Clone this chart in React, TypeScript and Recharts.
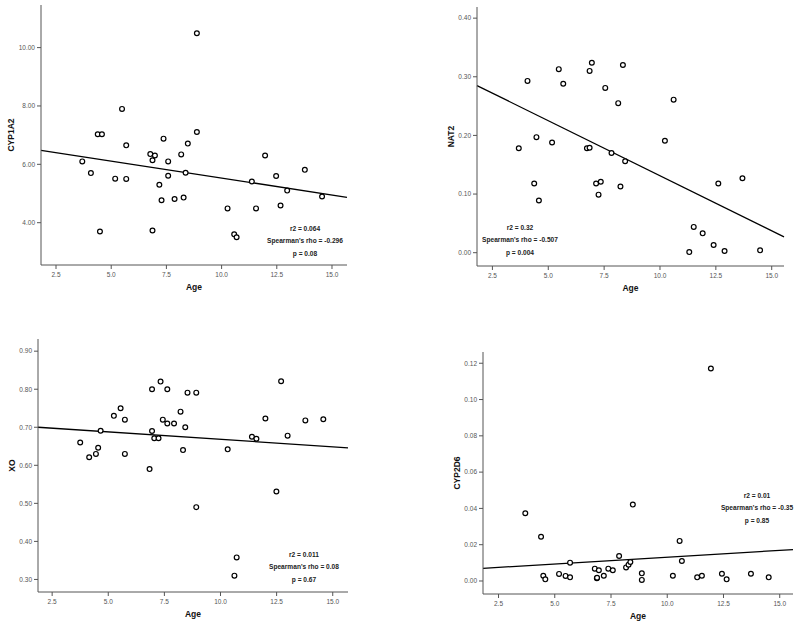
import React from 'react';
import {
  ScatterChart,
  Scatter,
  XAxis,
  YAxis,
  ReferenceLine,
} from 'recharts';

// ages and values
const cyp1a2Age = [3.69, 4.08, 4.39, 4.58, 4.49, 5.18, 5.49, 5.68, 5.68, 6.77, 6.87, 6.98, 6.87, 7.18, 7.28, 7.37, 7.58, 7.58, 7.87, 8.17, 8.28, 8.37, 8.47, 8.88, 8.88, 10.27, 10.57, 10.68, 11.37, 11.56, 11.97, 12.47, 12.67, 12.97, 13.77, 14.55];
const cyp1a2Val = [6.1, 5.7, 7.03, 7.03, 3.7, 5.51, 7.9, 6.65, 5.5, 6.35, 6.14, 6.3, 3.73, 5.3, 4.77, 6.88, 6.1, 5.61, 4.81, 6.34, 4.86, 5.71, 6.71, 7.11, 10.49, 4.49, 3.6, 3.5, 5.41, 4.49, 6.3, 5.6, 4.59, 5.1, 5.81, 4.9];

const nat2Age = [3.68, 4.07, 4.37, 4.47, 4.58, 5.17, 5.47, 5.67, 6.73, 6.85, 6.85, 6.95, 7.14, 7.25, 7.35, 7.55, 7.83, 8.13, 8.23, 8.34, 8.44, 10.22, 10.61, 11.31, 11.51, 11.91, 12.4, 12.61, 12.89, 13.69, 14.48];
const nat2Val = [0.178, 0.293, 0.118, 0.197, 0.089, 0.188, 0.313, 0.288, 0.178, 0.179, 0.31, 0.324, 0.118, 0.099, 0.121, 0.281, 0.17, 0.255, 0.113, 0.32, 0.156, 0.191, 0.261, 0.001, 0.044, 0.033, 0.013, 0.118, 0.003, 0.127, 0.004];

const xoAge = [3.75, 4.15, 4.45, 4.55, 4.66, 5.25, 5.55, 5.74, 5.74, 6.84, 6.95, 6.95, 7.05, 7.24, 7.33, 7.43, 7.63, 7.63, 7.93, 8.22, 8.33, 8.43, 8.53, 8.92, 8.92, 10.32, 10.62, 10.72, 11.4, 11.6, 12.0, 12.49, 12.7, 12.99, 13.78, 14.58];
const xoVal = [0.66, 0.621, 0.63, 0.646, 0.691, 0.73, 0.75, 0.72, 0.63, 0.59, 0.8, 0.69, 0.671, 0.671, 0.82, 0.72, 0.8, 0.71, 0.71, 0.741, 0.64, 0.7, 0.791, 0.791, 0.49, 0.642, 0.31, 0.358, 0.675, 0.67, 0.723, 0.531, 0.821, 0.678, 0.718, 0.721];

const cyp2d6Age = [3.69, 4.39, 4.49, 4.58, 5.19, 5.48, 5.68, 5.68, 6.78, 6.87, 6.88, 6.96, 7.18, 7.38, 7.58, 7.86, 8.17, 8.28, 8.36, 8.47, 8.87, 8.87, 10.25, 10.55, 10.65, 11.33, 11.54, 11.94, 12.43, 12.64, 13.72, 14.51];
const cyp2d6Val = [0.0373, 0.0244, 0.0029, 0.0009, 0.0039, 0.0028, 0.0101, 0.002, 0.0068, 0.0015, 0.0018, 0.0059, 0.0029, 0.0068, 0.0059, 0.0138, 0.0075, 0.009, 0.0105, 0.0421, 0.0042, 0.0006, 0.0029, 0.0221, 0.011, 0.002, 0.0029, 0.1171, 0.004, 0.0009, 0.004, 0.002];

const ageTicks = [2.5, 5, 7.5, 10, 12.5, 15];
const cyp1a2Ticks = [4, 6, 8, 10];
const nat2Ticks = [0, 0.1, 0.2, 0.3, 0.4];
const xoTicks = [0.3, 0.4, 0.5, 0.6, 0.7, 0.8, 0.9];
const cyp2d6Ticks = [0, 0.02, 0.04, 0.06, 0.08, 0.1, 0.12];

// fit line end values (at the x-domain edges)
const cyp1a2Fit = [6.48, 4.87];
const nat2Fit = [0.285, 0.027];
const xoFit = [0.7, 0.646];
const cyp2d6Fit = [0.007, 0.0173];

const cyp1a2Stats = ['r2 = 0.064', "Spearman's rho = -0.296", 'p = 0.08'];
const nat2Stats = ['r2 = 0.32', "Spearman's rho = -0.507", 'p = 0.004'];
const xoStats = ['r2 = 0.011', "Spearman's rho = 0.08", 'p = 0.67'];
const cyp2d6Stats = ['r2 = 0.01', "Spearman's rho = -0.35", 'p = 0.85'];

const FONT = '"Liberation Sans", Arial, sans-serif';

const zip = (xs: number[], ys: number[]) => xs.map((x, i) => ({ age: x, v: ys[i] }));

const Dot = (p: any) => (
  <circle cx={p.cx} cy={p.cy} r={2.4} fill="#fff" stroke="#000" strokeWidth={1.2} />
);

interface PanelProps {
  px: number;
  py: number;
  plot: [number, number, number, number]; // left, top, right, bottom (page px)
  xDomain: [number, number];
  yDomain: [number, number];
  yTicks: number[];
  title: string;
  titleGap: number;
  ages: number[];
  vals: number[];
  fit: number[];
  stats: string[];
  statsX: number;
  statsY: number;
}

function Panel(props: PanelProps) {
  const { px, py, plot, xDomain, yDomain, yTicks, title, titleGap, ages, vals, fit, stats, statsX, statsY } = props;
  const [l, t, r, b] = plot;
  const W = 400;
  const H = 315;
  const data = zip(ages, vals);
  const tickStyle = { fontSize: 6.5, fill: '#555', fontFamily: FONT };
  return (
    <div style={{ position: 'absolute', left: px, top: py, width: W, height: H }}>
      <ScatterChart
        width={W}
        height={H}
        margin={{ top: t - py, right: px + W - r, left: 0, bottom: 0 }}
        style={{ overflow: 'visible' }}
      >
        <XAxis
          type="number"
          dataKey="age"
          domain={xDomain}
          allowDataOverflow
          ticks={ageTicks}
          tickFormatter={(v: number) => v.toFixed(1)}
          tick={tickStyle}
          tickSize={4}
          tickMargin={3}
          height={py + H - b}
          stroke="#555"
        />
        <YAxis
          type="number"
          dataKey="v"
          domain={yDomain}
          allowDataOverflow
          ticks={yTicks}
          tickFormatter={(v: number) => v.toFixed(2)}
          tick={tickStyle}
          tickSize={4}
          tickMargin={2}
          width={l - px}
          stroke="#555"
        />
        <ReferenceLine
          segment={[
            { x: xDomain[0], y: fit[0] },
            { x: xDomain[1], y: fit[1] },
          ]}
          stroke="#000"
          strokeWidth={1.3}
        />
        <Scatter data={data} shape={Dot} isAnimationActive={false} />
        <text
          x={(l + r) / 2 - px}
          y={b - py + 25}
          textAnchor="middle"
          fontFamily={FONT}
          fontWeight="bold"
          fontSize={8.5}
          fill="#111"
        >
          Age
        </text>
        <text
          transform={`translate(${l - px - titleGap}, ${(t + b) / 2 - py}) rotate(-90)`}
          textAnchor="middle"
          dominantBaseline="central"
          fontFamily={FONT}
          fontWeight="bold"
          fontSize={8.5}
          fill="#111"
        >
          {title}
        </text>
        {stats.map((s, i) => (
          <text
            key={s}
            x={statsX - px}
            y={statsY - py + i * 12.3}
            textAnchor="middle"
            fontFamily={FONT}
            fontWeight="bold"
            fontSize={6.6}
            fill="#222"
          >
            {s}
          </text>
        ))}
      </ScatterChart>
    </div>
  );
}

export default function App() {
  return (
    <div style={{ position: 'absolute', left: 0, top: 0, width: 800, height: 625, background: '#fff', overflow: 'hidden' }}>
      <Panel
        px={0}
        py={0}
        plot={[41, 5, 347, 265]}
        xDomain={[1.82, 15.68]}
        yDomain={[2.55, 11.46]}
        yTicks={cyp1a2Ticks}
        title="CYP1A2"
        titleGap={30}
        ages={cyp1a2Age}
        vals={cyp1a2Val}
        fit={cyp1a2Fit}
        stats={cyp1a2Stats}
        statsX={305}
        statsY={231}
      />
      <Panel
        px={400}
        py={0}
        plot={[477, 7, 784, 266]}
        xDomain={[1.81, 15.55]}
        yDomain={[-0.0227, 0.419]}
        yTicks={nat2Ticks}
        title="NAT2"
        titleGap={26}
        ages={nat2Age}
        vals={nat2Val}
        fit={nat2Fit}
        stats={nat2Stats}
        statsX={520}
        statsY={230}
      />
      <Panel
        px={0}
        py={310}
        plot={[38, 339, 348, 592]}
        xDomain={[1.87, 15.68]}
        yDomain={[0.267, 0.932]}
        yTicks={xoTicks}
        title="XO"
        titleGap={26}
        ages={xoAge}
        vals={xoVal}
        fit={xoFit}
        stats={xoStats}
        statsX={304}
        statsY={557}
      />
      <Panel
        px={400}
        py={310}
        plot={[483, 352, 793, 594]}
        xDomain={[1.81, 15.59]}
        yDomain={[-0.00717, 0.1262]}
        yTicks={cyp2d6Ticks}
        title="CYP2D6"
        titleGap={26}
        ages={cyp2d6Age}
        vals={cyp2d6Val}
        fit={cyp2d6Fit}
        stats={cyp2d6Stats}
        statsX={757}
        statsY={498}
      />
    </div>
  );
}
